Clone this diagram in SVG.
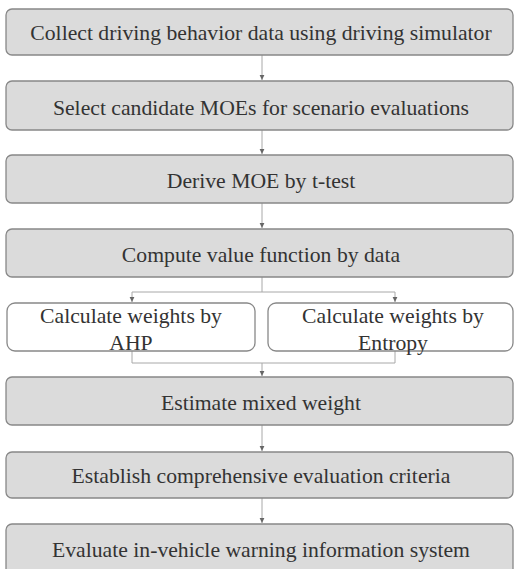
<svg xmlns="http://www.w3.org/2000/svg" width="514" height="569" viewBox="0 0 514 569">
<style>
.box{fill:#dbdbdb;stroke:#888;stroke-width:1.3}
.wbox{fill:#ffffff;stroke:#888;stroke-width:1.3}
text{font-family:'Liberation Serif','Times New Roman',serif;font-size:21.7px;fill:#333;text-anchor:middle}
.c{fill:none;stroke:#a8a8a8;stroke-width:1}
</style>
<defs>
<marker id="ah" markerWidth="6" markerHeight="6" refX="5" refY="3" orient="auto" markerUnits="userSpaceOnUse">
<path d="M0,0.6 L5,3 L0,5.4 Z" fill="#666"/>
</marker>
</defs>
<rect width="514" height="569" fill="#fff"/>
<g id="connectors">
<line class="c" x1="262" y1="55" x2="262" y2="80" marker-end="url(#ah)"/>
<line class="c" x1="262" y1="130" x2="262" y2="154" marker-end="url(#ah)"/>
<line class="c" x1="262" y1="203" x2="262" y2="228" marker-end="url(#ah)"/>
<polyline class="c" points="262,277 262,292"/>
<polyline class="c" points="132,292 395,292"/>
<line class="c" x1="132" y1="292" x2="132" y2="302" marker-end="url(#ah)"/>
<line class="c" x1="395" y1="292" x2="395" y2="302" marker-end="url(#ah)"/>
<polyline class="c" points="132,351 132,363 395,363 395,351"/>
<line class="c" x1="262" y1="363" x2="262" y2="376" marker-end="url(#ah)"/>
<line class="c" x1="262" y1="425" x2="262" y2="451" marker-end="url(#ah)"/>
<line class="c" x1="262" y1="498" x2="262" y2="523" marker-end="url(#ah)"/>
</g>
<g id="n1"><rect class="box" x="6" y="9" width="507" height="46" rx="6"/><text x="261" y="40">Collect driving behavior data using driving simulator</text></g>
<g id="n2"><rect class="box" x="6" y="81" width="507" height="49" rx="6"/><text x="261" y="115">Select candidate MOEs for scenario evaluations</text></g>
<g id="n3"><rect class="box" x="6" y="155" width="507" height="48" rx="6"/><text x="261" y="188">Derive MOE by t-test</text></g>
<g id="n4"><rect class="box" x="6" y="229" width="507" height="48" rx="6"/><text x="261" y="262">Compute value function by data</text></g>
<g id="n5"><rect class="wbox" x="7" y="303" width="248" height="48" rx="8"/><text x="131" y="323">Calculate weights by</text><text x="131" y="350">AHP</text></g>
<g id="n6"><rect class="wbox" x="268" y="303" width="245" height="48" rx="8"/><text x="393" y="323">Calculate weights by</text><text x="393" y="350">Entropy</text></g>
<g id="n7"><rect class="box" x="6" y="377" width="507" height="48" rx="6"/><text x="261" y="410">Estimate mixed weight</text></g>
<g id="n8"><rect class="box" x="6" y="452" width="507" height="46" rx="6"/><text x="261" y="483">Establish comprehensive evaluation criteria</text></g>
<g id="n9"><rect class="box" x="6" y="524" width="507" height="60" rx="6"/><text x="261" y="557">Evaluate in-vehicle warning information system</text></g>
</svg>
